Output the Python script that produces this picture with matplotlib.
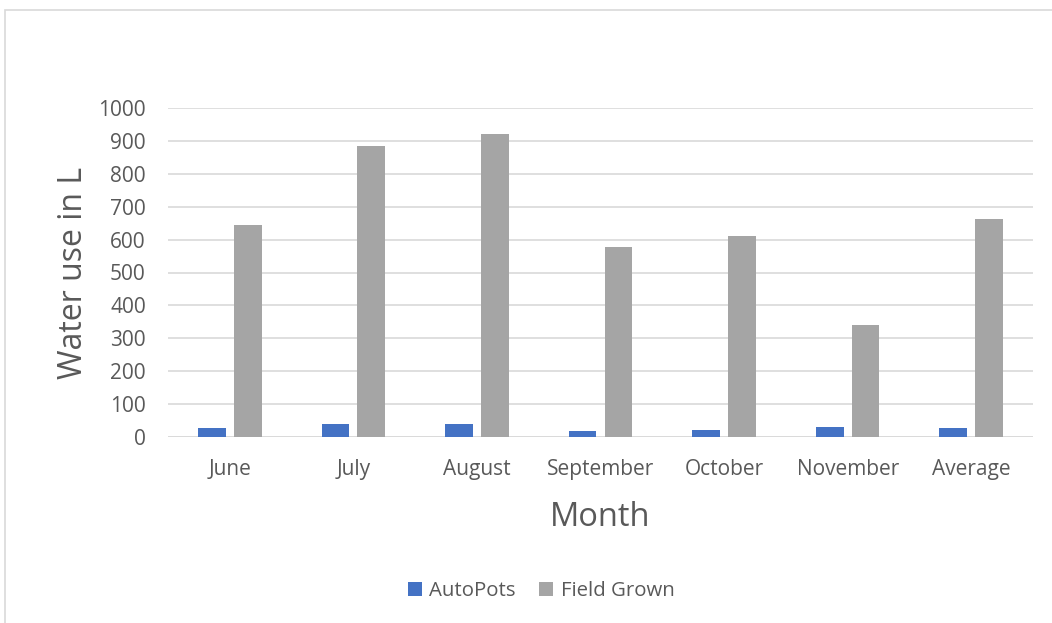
import matplotlib
matplotlib.use("Agg")
import matplotlib.pyplot as plt
import numpy as np
from matplotlib.patches import Rectangle

months = ["June", "July", "August", "September", "October", "November", "Average"]
autopots = [26, 38, 38, 17, 22, 30, 28]
field_grown = [645, 886, 920, 578, 611, 340, 664]
yticks = [0, 100, 200, 300, 400, 500, 600, 700, 800, 900, 1000]

plt.rcParams['font.family'] = ['Open Sans', 'DejaVu Sans']

W, H = 1052, 623
fig = plt.figure(figsize=(W / 100, H / 100), dpi=100)
fig.patch.set_facecolor("white")

# outer chart frame
fig.add_artist(Rectangle((5 / W, -0.1), 1.2, 1 - 10 / H + 0.1, transform=fig.transFigure,
                         fill=False, edgecolor="#d9d9d9", linewidth=1.2))

ax = fig.add_axes([168 / W, 1 - 437 / H, (1033 - 168) / W, (437 - 108) / H])
x = np.arange(len(months))
w = 0.225
gap = 0.065
ax.bar(x - (w + gap) / 2, autopots, width=w, color="#4472C4", label="AutoPots", zorder=3)
ax.bar(x + (w + gap) / 2, field_grown, width=w, color="#A5A5A5", label="Field Grown", zorder=3)

ax.set_xlim(-0.5, len(months) - 0.5)
ax.set_ylim(0, 1000)
ax.set_yticks(yticks)
ax.set_xticks(x)
ax.set_xticklabels(months)
ax.yaxis.grid(True, color="#d9d9d9", linewidth=1.2, zorder=0)
for s in ax.spines.values():
    s.set_visible(False)
ax.axhline(0, color="#d9d9d9", linewidth=1.2, zorder=2)
ax.tick_params(axis="both", length=0, labelsize=15, labelcolor="#595959")
ax.tick_params(axis="y", pad=16)
ax.tick_params(axis="x", pad=16)

ax.set_ylabel("Water use in L", fontsize=23, color="#595959", labelpad=6)
ax.set_xlabel("Month", fontsize=23.5, color="#595959", labelpad=15)

leg = fig.legend(loc="center", bbox_to_anchor=(541 / W, 1 - 591 / H), ncol=2, frameon=False,
                 fontsize=14.7, handlelength=0.7, handleheight=0.7, columnspacing=1.15,
                 handletextpad=0.35)
for t in leg.get_texts():
    t.set_color("#595959")

fig.savefig("out.png", dpi=100, facecolor="white")
